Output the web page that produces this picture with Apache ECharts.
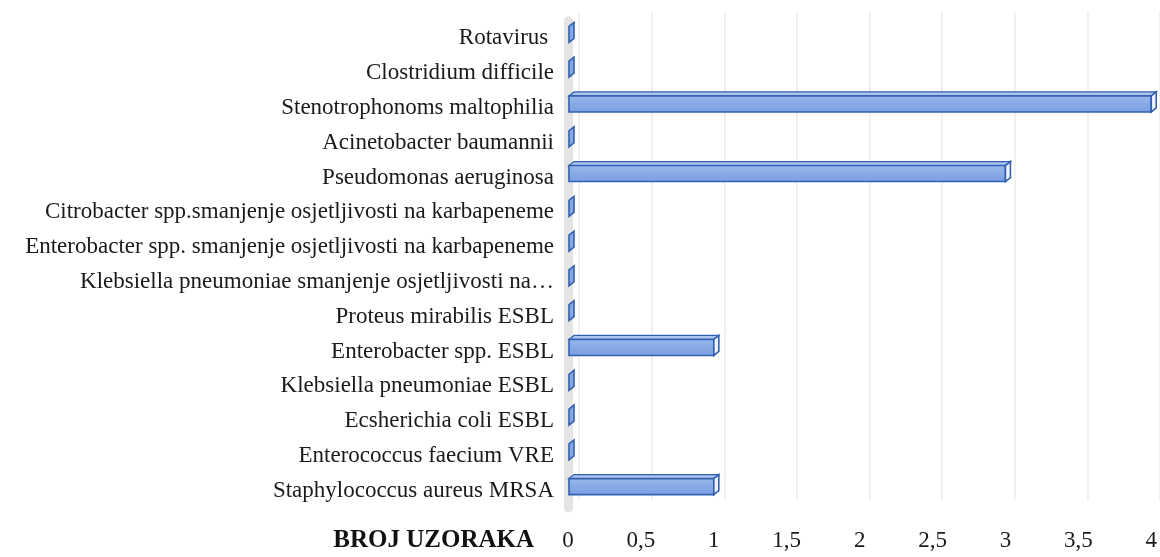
<!DOCTYPE html>
<html><head><meta charset="utf-8">
<script src="https://cdn.jsdelivr.net/npm/echarts@6/dist/echarts.min.js"></script>
<style>html,body{margin:0;padding:0;background:#fff}#c{width:1160px;height:557px}</style>
</head><body><div id="c"></div>
<script>
const categories = [
  "Staphylococcus aureus MRSA",
  "Enterococcus faecium VRE",
  "Ecsherichia coli ESBL",
  "Klebsiella pneumoniae ESBL",
  "Enterobacter spp. ESBL",
  "Proteus mirabilis ESBL",
  "Klebsiella pneumoniae smanjenje osjetljivosti na…",
  "Enterobacter spp. smanjenje osjetljivosti na karbapeneme",
  "Citrobacter spp.smanjenje osjetljivosti na karbapeneme",
  "Pseudomonas aeruginosa",
  "Acinetobacter baumannii",
  "Stenotrophonoms maltophilia",
  "Clostridium difficile",
  "Rotavirus "
];
const values = [1, 0, 0, 0, 1, 0, 0, 0, 0, 3, 0, 4, 0, 0];
const axisTitle = "BROJ UZORAKA";

const chart = echarts.init(document.getElementById('c'));
const DX = 5, DY = -4;
chart.setOption({
  animation: false,
  textStyle: { fontFamily: 'Liberation Serif' },
  grid: [
    { left: 568, right: 6, top: 21, bottom: 49 },
    { left: 579, right: -5, top: 12, bottom: 57 }
  ],
  xAxis: [{
    type: 'value', min: 0, max: 4, interval: 0.5, gridIndex: 0,
    axisLine: { show: false }, axisTick: { show: false },
    splitLine: { show: false },
    axisLabel: { color: '#1a1a1a', fontSize: 23, margin: 21,
      formatter: v => String(v).replace('.', ',') }
  }, {
    type: 'value', min: 0, max: 4, interval: 0.5, gridIndex: 1,
    axisLine: { show: false }, axisTick: { show: false }, axisLabel: { show: false },
    splitLine: { lineStyle: { color: '#ebebeb', width: 1.5 } }
  }],
  yAxis: [{
    type: 'category', data: categories, gridIndex: 0,
    axisLine: { show: true, lineStyle: { color: '#e4e4e4', width: 9 } },
    axisTick: { show: false },
    axisLabel: { color: '#1a1a1a', fontSize: 23, margin: 14 }
  }, {
    type: 'category', data: categories, gridIndex: 1, show: false
  }],
  graphic: [{
    type: 'text', right: 1160 - 534, top: 528,
    style: { text: axisTitle, font: 'bold 25px "Liberation Serif"', fill: '#111' }
  }],
  series: [{
    type: 'custom',
    xAxisIndex: 0, yAxisIndex: 0,
    data: values.map((v, i) => [v, i]),
    encode: { x: 0, y: 1 },
    renderItem: function (params, api) {
      const v = api.value(0), idx = api.value(1);
      const p0 = api.coord([0, idx]);
      const p1 = api.coord([v, idx]);
      const c = p0[1];
      const x0 = p0[0] + 1, x1 = Math.max(p1[0], x0);
      const yT = c - 12, yB = c + 4;
      const stroke = '#3260b0';
      const children = [];
      if (x1 > x0 + 1) {
        children.push({
          type: 'polygon',
          shape: { points: [[x0, yT], [x0 + DX, yT + DY], [x1 + DX, yT + DY], [x1, yT]] },
          style: { fill: '#aac4ee', stroke: stroke, lineWidth: 1.3 }
        });
        children.push({
          type: 'rect',
          shape: { x: x0, y: yT, width: x1 - x0, height: yB - yT },
          style: {
            fill: new echarts.graphic.LinearGradient(0, 0, 0, 1, [
              { offset: 0, color: '#9ab9ec' }, { offset: 0.5, color: '#87aae6' }, { offset: 1, color: '#7a9fe0' }
            ]),
            stroke: stroke, lineWidth: 1.6
          }
        });
      }
      children.push({
        type: 'polygon',
        shape: { points: [[x1, yT], [x1 + DX, yT + DY], [x1 + DX, yB + DY], [x1, yB]] },
        style: { fill: x1 > x0 + 1 ? '#eef3fb' : '#86a8e2', stroke: stroke, lineWidth: 1.6 }
      });
      return { type: 'group', children: children };
    }
  }]
});
</script></body></html>
